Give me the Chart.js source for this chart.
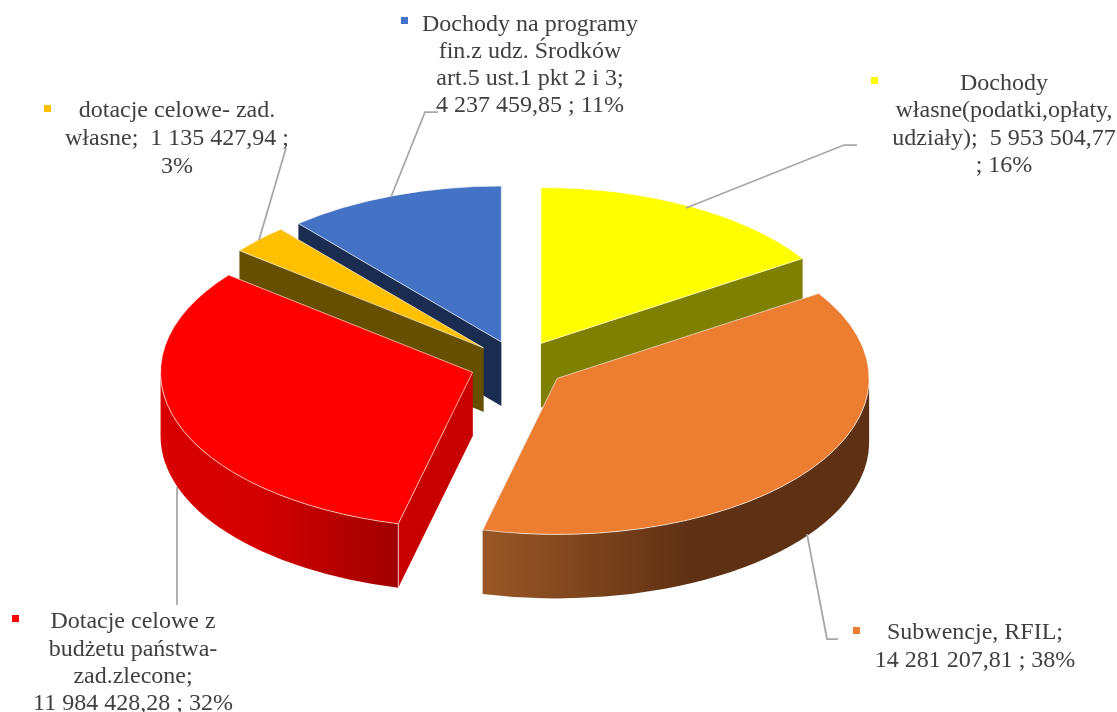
<!DOCTYPE html>
<html>
<head>
<meta charset="utf-8">
<style>html,body{margin:0;padding:0;background:#fff}#wrap{width:1117px;height:712px;position:relative}</style>
<script src="https://cdn.jsdelivr.net/npm/chart.js@4"></script>
</head>
<body>
<div id="wrap"><canvas id="c" width="1117" height="712"></canvas></div>
<script>
const categories = ['Dochody własne(podatki,opłaty, udziały)', 'Subwencje, RFIL', 'Dotacje celowe z budżetu państwa-zad.zlecone', 'dotacje celowe- zad. własne', 'Dochody na programy fin.z udz. Środków art.5 ust.1 pkt 2 i 3'];
const values = [5953504.77, 14281207.81, 11984428.28, 1135427.94, 4237459.85];
const topColors = ['#FFFF00', '#ED7D31', '#FF0000', '#FFC000', '#4472C4'];
const wallColors = ['#808000', '#5E3014', '#C80000', '#665000', '#1A2D50'];
const labelLines = [
  ['Dochody', 'własne(podatki,opłaty,', 'udziały);  5 953 504,77', '; 16%'],
  ['Subwencje, RFIL;', '14 281 207,81 ; 38%'],
  ['Dotacje celowe z', 'budżetu państwa-', 'zad.zlecone;', '11 984 428,28 ; 32%'],
  ['dotacje celowe- zad.', 'własne;  1 135 427,94 ;', '3%'],
  ['Dochody na programy', 'fin.z udz. Środków', 'art.5 ust.1 pkt 2 i 3;', '4 237 459,85 ; 11%']
];

// layout and style
const TILT = 0.5, DEPTH = 64, EXPLODE = 48, RADIUS = 312;
const PAINT_ORDER = [4, 3, 0, 2, 1];
const labelLayout = [
  {x: 1004, base: [90, 117, 145, 172], box: [871, 77], leader: [[857,145],[844,145],[686,208]]},
  {x: 975, base: [639, 667], box: [853, 627], leader: [[838,639],[827,639],[807,534]]},
  {x: 133, base: [628, 656, 683, 710], box: [12, 615], leader: [[177,605],[177,487]]},
  {x: 177, base: [117, 145, 173], box: [44, 105], leader: [[286,148],[259,240]]},
  {x: 530, base: [31, 58, 85, 112], box: [401, 17], leader: [[438,112],[425,112],[391,197]]}
];
const sideGradients = {
  1: [[0, '#9A5726'], [0.55, '#5E3014'], [1, '#5E3014']],
  2: [[0, '#D80000'], [0.4, '#D40000'], [1, '#A00000']]
};

const pie3d = {
  id: 'pie3d',
  beforeDatasetDraw(chart, args) {
    const ctx = chart.ctx;
    const arcs = chart.getDatasetMeta(args.index).data;
    PAINT_ORDER.forEach(i => {
      const a = arcs[i];
      const R = a.outerRadius, s = a.startAngle, e = a.endAngle, mid = (s + e) / 2;
      const px = a.x + Math.cos(mid) * EXPLODE, py = a.y + Math.sin(mid) * EXPLODE * TILT;
      const pt = t => [px + Math.cos(t) * R, py + Math.sin(t) * R * TILT];

      // radial walls
      ctx.fillStyle = wallColors[i];
      [s, e].forEach(t => {
        const p = pt(t);
        ctx.beginPath();
        ctx.moveTo(px, py);
        ctx.lineTo(p[0], p[1]);
        ctx.lineTo(p[0], p[1] + DEPTH);
        ctx.lineTo(px, py + DEPTH);
        ctx.closePath();
        ctx.fill();
      });

      // outer rim, front half only
      const a0 = Math.max(s, 0), a1 = Math.min(e, Math.PI);
      if (a1 > a0) {
        const xs = [];
        for (let n = 0; n <= 60; n++) xs.push(pt(a0 + (a1 - a0) * n / 60)[0]);
        const g = ctx.createLinearGradient(Math.min(...xs), 0, Math.max(...xs), 0);
        (sideGradients[i] || [[0, wallColors[i]], [1, wallColors[i]]]).forEach(st => g.addColorStop(st[0], st[1]));
        ctx.fillStyle = g;
        ctx.beginPath();
        ctx.ellipse(px, py, R, R * TILT, 0, a0, a1);
        ctx.ellipse(px, py + DEPTH, R, R * TILT, 0, a1, a0, true);
        ctx.closePath();
        ctx.fill();
      }

      // corner highlight on the red slice
      if (i === 2) {
        const p = pt(s);
        ctx.strokeStyle = 'rgba(255,255,255,0.7)';
        ctx.lineWidth = 1;
        ctx.beginPath();
        ctx.moveTo(p[0], p[1]);
        ctx.lineTo(p[0], p[1] + DEPTH);
        ctx.stroke();
      }

      // top face, drawn by the library's arc element
      ctx.save();
      ctx.translate(px, py);
      ctx.scale(1, TILT);
      ctx.translate(-a.x, -a.y);
      a.draw(ctx);
      ctx.restore();
    });
    return false;
  },
  afterDraw(chart) {
    const ctx = chart.ctx;
    ctx.save();
    labelLayout.forEach((l, i) => {
      ctx.strokeStyle = '#A6A6A6';
      ctx.lineWidth = 1.75;
      ctx.beginPath();
      l.leader.forEach((p, n) => n ? ctx.lineTo(p[0], p[1]) : ctx.moveTo(p[0], p[1]));
      ctx.stroke();
      ctx.fillStyle = topColors[i];
      ctx.fillRect(l.box[0], l.box[1], 7, 7);
      ctx.fillStyle = '#404040';
      ctx.font = '24px "Liberation Serif"';
      ctx.textAlign = 'center';
      ctx.textBaseline = 'alphabetic';
      labelLines[i].forEach((t, n) => ctx.fillText(t, l.x, l.base[n]));
    });
    ctx.restore();
  }
};

new Chart(document.getElementById('c'), {
  type: 'pie',
  data: {
    labels: categories,
    datasets: [{
      data: values,
      backgroundColor: topColors,
      borderColor: 'rgba(255,255,255,0.85)',
      borderWidth: 1,
      borderJoinStyle: 'miter'
    }]
  },
  options: {
    responsive: false,
    animation: false,
    radius: RADIUS,
    layout: {padding: {left: 0, right: 81, top: 17, bottom: 0}},
    plugins: {legend: {display: false}, tooltip: {enabled: false}}
  },
  plugins: [pie3d]
});
</script>
</body>
</html>
